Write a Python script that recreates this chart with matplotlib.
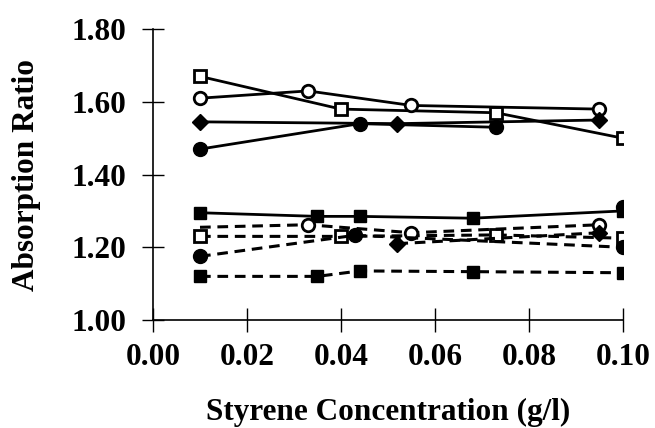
import matplotlib.pyplot as plt
import numpy as np

plt.rcParams['font.family'] = ['Liberation Serif', 'DejaVu Serif']
plt.rcParams['font.weight'] = 'bold'

# upper group (solid lines)
x_osq = [0.010, 0.040, 0.073, 0.100]
y_osq = [1.67, 1.58, 1.57, 1.50]
x_ocir = [0.010, 0.033, 0.055, 0.095]
y_ocir = [1.61, 1.63, 1.59, 1.58]
x_dia = [0.010, 0.052, 0.095]
y_dia = [1.545, 1.54, 1.55]
x_fcir = [0.010, 0.044, 0.073]
y_fcir = [1.47, 1.54, 1.53]

# lower group
x_fsq = [0.010, 0.035, 0.044, 0.068, 0.100]
y_fsq = [1.295, 1.285, 1.285, 1.28, 1.30]
x_fsq2 = [0.010, 0.035, 0.044, 0.068, 0.100]
y_fsq2 = [1.12, 1.12, 1.135, 1.133, 1.13]
x_osq2 = [0.010, 0.040, 0.073, 0.100]
y_osq2 = [1.23, 1.23, 1.234, 1.225]
x_ocir2 = [0.010, 0.033, 0.055, 0.095]
y_ocir2 = [1.255, 1.262, 1.24, 1.262]
x_fcir2 = [0.010, 0.043, 0.100]
y_fcir2 = [1.175, 1.233, 1.20]
x_dia2 = [0.052, 0.095]
y_dia2 = [1.21, 1.24]
x_fcir3 = [0.100]
y_fcir3 = [1.31]

fig = plt.figure(figsize=(6.55, 4.28), dpi=100)
ax = fig.add_axes([0.2336, 0.2523, 0.951 - 0.2336, 0.932 - 0.2523])

solid = dict(color='black', lw=2.0)
dash = dict(color='black', lw=2.2, linestyle=(0, (3.5, 2.2)))
opn = dict(markerfacecolor='white', markeredgecolor='black', markeredgewidth=2.0)

ax.plot(x_osq, y_osq, marker='s', ms=9, **solid, **opn)
ax.plot(x_ocir, y_ocir, marker='o', ms=9, **solid, **opn)
ax.plot(x_dia, y_dia, marker='D', ms=8, **solid)
ax.plot(x_fcir, y_fcir, marker='o', ms=10, **solid)

ax.plot(x_fsq, y_fsq, marker='s', ms=9, **solid)
ax.plot(x_fsq2, y_fsq2, marker='s', ms=9, **dash)
ax.plot(x_osq2, y_osq2, marker='s', ms=9, **dash, **opn)
ax.plot(x_ocir2, y_ocir2, marker='o', ms=9, markevery=[1, 2, 3], **dash, **opn)
ax.plot(x_fcir2, y_fcir2, marker='o', ms=10, **dash)
ax.plot(x_dia2, y_dia2, marker='D', ms=8, **dash)
ax.plot(x_fcir3, y_fcir3, marker='o', ms=10, color='black', lw=0)

ax.set_xlim(0, 0.10)
ax.set_ylim(1.00, 1.80)
ax.set_xticks(np.arange(0, 0.101, 0.02))
ax.set_yticks(np.arange(1.0, 1.81, 0.2))
ax.set_xticklabels(['0.00', '0.02', '0.04', '0.06', '0.08', '0.10'])
ax.set_yticklabels(['1.00', '1.20', '1.40', '1.60', '1.80'])
ax.tick_params(axis='x', direction='inout', length=17, width=1, labelsize=22.5, pad=8)
ax.tick_params(axis='y', direction='inout', length=16, width=1, labelsize=22.5, pad=11)
for s in ['top', 'right']:
    ax.spines[s].set_visible(False)
ax.spines['left'].set_linewidth(1.2)
ax.spines['bottom'].set_linewidth(1.2)

ax.set_xlabel('Styrene Concentration (g/l)', fontsize=22.5, fontweight='bold', labelpad=19)
ax.set_ylabel('Absorption Ratio', fontsize=22.5, fontweight='bold', labelpad=22)

plt.savefig('out.png', dpi=100)
